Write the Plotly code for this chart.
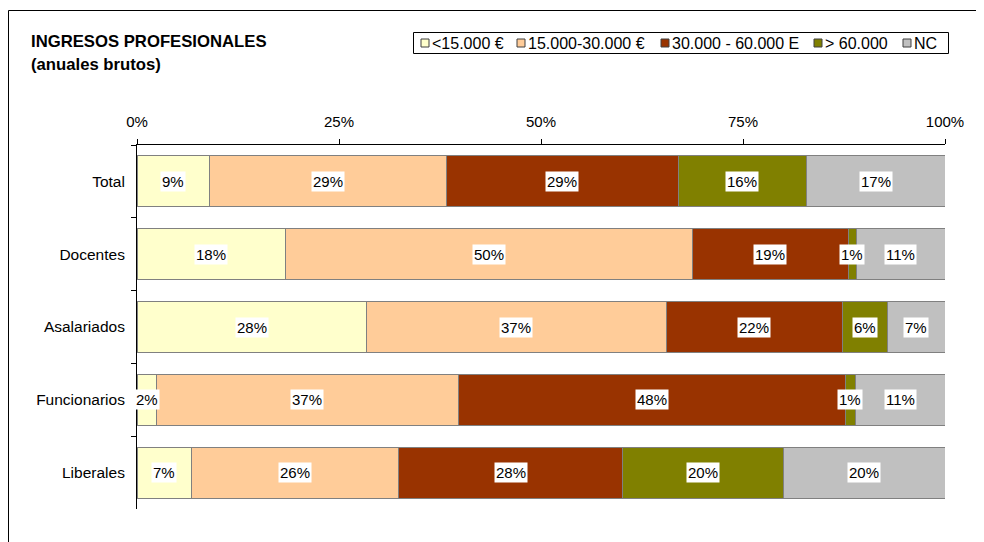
import plotly.graph_objects as go

categories = ["Total", "Docentes", "Asalariados", "Funcionarios", "Liberales"]
series_names = ["<15.000 €", "15.000-30.000 €", "30.000 - 60.000 E", "> 60.000", "NC"]
lt15 = [9.0, 18.4, 28.4, 2.4, 6.8]
r15_30 = [29.3, 50.3, 37.1, 37.4, 25.6]
r30_60 = [28.7, 19.3, 21.8, 47.9, 27.7]
gt60 = [15.8, 1.0, 5.6, 1.2, 19.9]
nc = [17.2, 11.0, 7.1, 11.1, 20.0]
x_ticks = [0, 25, 50, 75, 100]
x_tick_labels = ["0%", "25%", "50%", "75%", "100%"]

series_values = [lt15, r15_30, r30_60, gt60, nc]
colors = ["#FFFFCC", "#FFCC99", "#993300", "#808000", "#C0C0C0"]
FONT = "Liberation Sans, Arial, sans-serif"

# page has an 8px body margin; figure is placed at (8, 8)
OFF = 8
W, H = 976, 534
ML, MT = 137 - OFF, 145 - OFF
MR = W - (945 - OFF)
MB = H - (509 - OFF)
PW, PH = W - ML - MR, H - MT - MB


def px_x(p):  # page pixel -> paper
    return (p - OFF - ML) / PW


def px_y(p):
    return (H - MB - (p - OFF)) / PH


fig = go.Figure()
for name, vals, col in zip(series_names, series_values, colors):
    fig.add_trace(go.Bar(
        y=categories, x=vals, name=name, orientation="h",
        marker=dict(color=col, line=dict(color="#808080", width=1)),
        showlegend=False, hoverinfo="x+y+name",
    ))

annotations = []
cum = [0.0] * len(categories)
for vals in series_values:
    for i, cat in enumerate(categories):
        v = vals[i]
        annotations.append(dict(
            x=cum[i] + v / 2, y=cat, xref="x", yref="y",
            text=f"{v:.0f}%", showarrow=False,
            font=dict(family=FONT, size=15, color="black"),
            bgcolor="white", borderpad=1,
        ))
        cum[i] += v

# Title
for txt, yy in [("<b>INGRESOS PROFESIONALES</b>", 41.5), ("<b>(anuales brutos)</b>", 65)]:
    annotations.append(dict(x=px_x(29), y=px_y(yy), xref="paper", yref="paper",
                            xanchor="left", yanchor="middle", showarrow=False,
                            text=txt, font=dict(family=FONT, size=16.7, color="black")))

shapes = []
# outer border (extends beyond the page on right/bottom)
shapes.append(dict(type="rect", xref="paper", yref="paper",
                   x0=px_x(8.5), x1=px_x(1010), y0=px_y(570), y1=px_y(10.5),
                   line=dict(color="black", width=1), fillcolor="rgba(0,0,0,0)", layer="below"))
# custom legend
shapes.append(dict(type="rect", xref="paper", yref="paper",
                   x0=px_x(413.5), x1=px_x(948.5), y0=px_y(53.5), y1=px_y(32.5),
                   line=dict(color="black", width=1), fillcolor="white"))
sq_left = [421, 517, 661, 814, 903]
for name, col, sx in zip(series_names, colors, sq_left):
    shapes.append(dict(type="rect", xref="paper", yref="paper",
                       x0=px_x(sx), x1=px_x(sx + 8), y0=px_y(47), y1=px_y(39),
                       line=dict(color="#404040", width=1), fillcolor=col))
    annotations.append(dict(x=px_x(sx + 9), y=px_y(43), xref="paper", yref="paper",
                            xanchor="left", yanchor="middle", showarrow=False,
                            text=name, font=dict(family=FONT, size=16, color="black")))

fig.update_layout(
    width=W, height=H,
    margin=dict(l=ML, r=MR, t=MT, b=MB, pad=0),
    paper_bgcolor="white", plot_bgcolor="white",
    barmode="stack", bargap=0.3,
    font=dict(family=FONT, size=15, color="black"),
    annotations=annotations, shapes=shapes,
    xaxis=dict(side="top", range=[0, 100], tickvals=x_ticks, ticktext=x_tick_labels,
               ticks="outside", ticklen=5, tickcolor="black", showline=True,
               linecolor="black", linewidth=1, showgrid=False, zeroline=False,
               tickfont=dict(size=15), ticklabelstandoff=6, fixedrange=True),
    yaxis=dict(type="category", categoryorder="array", categoryarray=categories,
               range=[len(categories) - 0.5, -0.5], tickson="boundaries",
               ticks="outside", ticklen=5, tickcolor="black", showline=True,
               linecolor="black", linewidth=1, showgrid=False, zeroline=False,
               tickfont=dict(size=15.5), ticklabelstandoff=8, fixedrange=True),
)

fig.write_html("out.html")
